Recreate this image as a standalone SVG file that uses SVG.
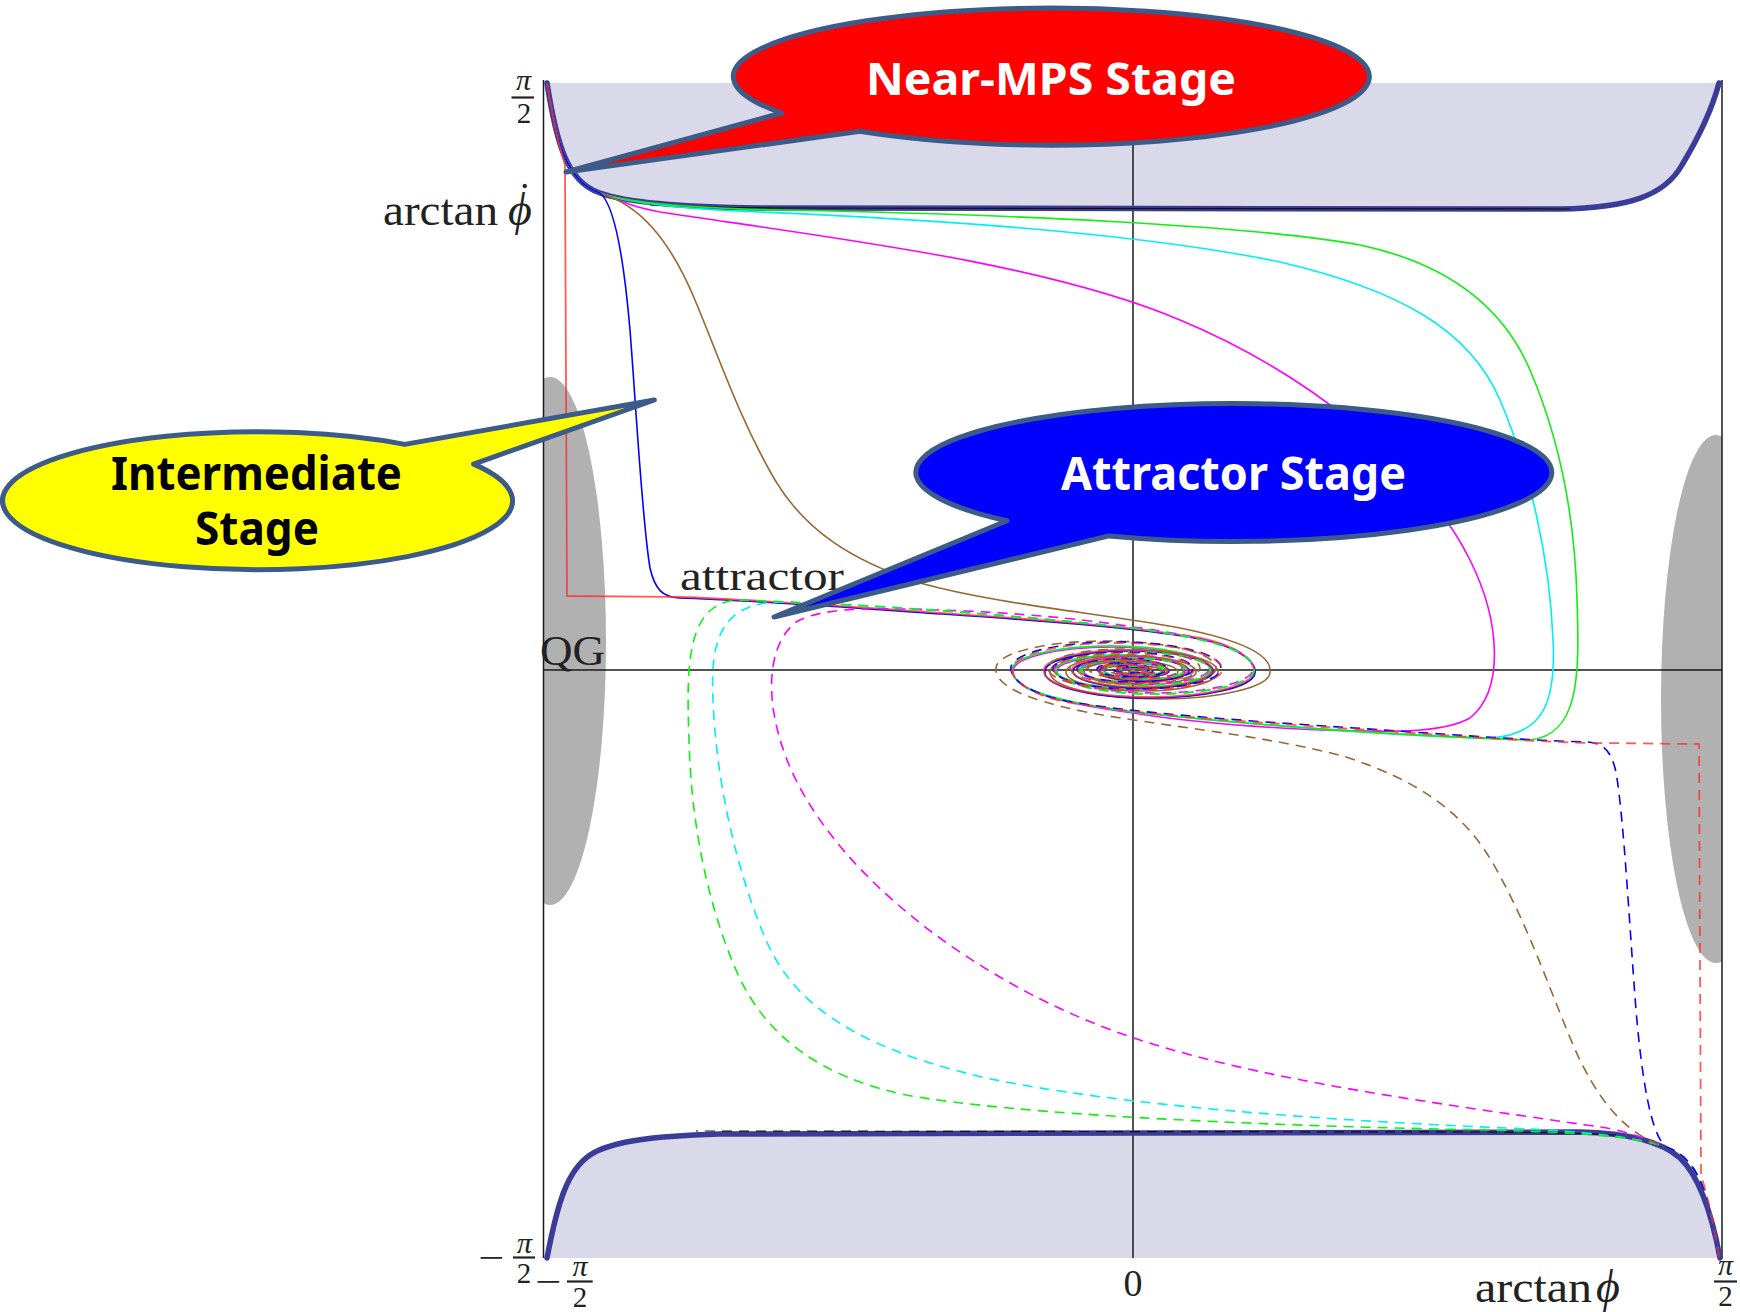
<svg xmlns="http://www.w3.org/2000/svg" width="1740" height="1312" viewBox="0 0 1740 1312">
<defs>
<style>
.region{fill:#d9d9ea;stroke:none;}
.qg{fill:#b1b1b1;}
.axis{stroke:#1a1a1a;stroke-width:1.5;fill:none;}
.bnd{fill:none;stroke:#3b3b98;stroke-width:5.5;stroke-linecap:round;stroke-linejoin:round;}
.core{fill:none;stroke:#111;stroke-width:1.2;}
.tr{fill:none;stroke-width:1.6;stroke-linejoin:round;}
.dash{stroke-dasharray:10 7;}
.red{stroke:#ff3030;stroke-opacity:0.8;stroke-width:1.8;}
.blue{stroke:#0000ff;}
.brown{stroke:#996633;}
.mag{stroke:#ff00ff;}
.cyan{stroke:#00f0f0;}
.green{stroke:#11ee11;}
.math{font-family:"Liberation Serif","DejaVu Serif",serif;fill:#222;}
.frac{stroke:#222;stroke-width:2.2;}
.bubble{stroke:#3d5b88;stroke-width:5;stroke-linejoin:round;}
.btxt{font-family:"Noto Sans","Open Sans","Liberation Sans",sans-serif;font-weight:700;text-anchor:middle;}
</style>
<clipPath id="plotclip"><rect x="543.5" y="80" width="1178.5" height="1180"/></clipPath>
<path id="t-red" d="M 547 83 C 552 115, 558 142, 565 165 L 567 596 C 600 596, 640 597, 679 597 C 750 599, 850 607, 942 613 C 1030 619, 1133 626, 1200 638 C 1235 645, 1256 660, 1254 672 A 105 26 0 0 1 1044 670 A 84 20 0 0 1 1212 670 A 70 17 0 0 1 1072 670 A 58 13 0 0 1 1188 670 A 45 10 0 0 1 1098 670 A 35 8 0 0 1 1168 670 A 26 6 0 0 1 1116 670 A 18 4 0 0 1 1152 670 A 10 3 0 0 1 1132 670"/>
<path id="t-blue" d="M 547 83 C 556 140, 566 182, 600 193 C 615 205, 624 260, 630 330 C 637 420, 642 520, 650 568 C 655 590, 663 597, 679 598 C 750 600, 850 608, 942 614 C 1030 620, 1133 627, 1200 639 C 1235 646, 1257 661, 1255 673 A 105 26 0 0 1 1045 671 A 84 20 0 0 1 1213 671 A 70 17 0 0 1 1073 671 A 58 13 0 0 1 1189 671 A 45 10 0 0 1 1099 671 A 35 8 0 0 1 1169 671 A 26 6 0 0 1 1117 671 A 18 4 0 0 1 1153 671 A 10 3 0 0 1 1133 671"/>
<path id="t-brown" d="M 547 83 C 556 140, 566 182, 600 193 C 640 205, 670 240, 695 300 C 720 360, 740 420, 775 480 C 805 530, 850 560, 920 583 C 1000 605, 1100 613, 1180 628 C 1240 640, 1272 655, 1270 672 A 110 27 0 0 1 1050 672 A 84 22 0 0 1 1218 672 A 76 19 0 0 1 1066 672 A 65 16 0 0 1 1196 672 A 56 13 0 0 1 1084 672 A 47 11 0 0 1 1178 672 A 39 9 0 0 1 1100 672 A 31 7 0 0 1 1162 672 A 24 6 0 0 1 1114 672 A 17 4 0 0 1 1148 672 A 11 3 0 0 1 1126 672"/>
<path id="t-mag" d="M 547 83 C 556 140, 566 182, 600 193 C 625 203, 640 210, 680 215 C 850 240, 1050 265, 1180 320 C 1300 370, 1420 460, 1470 560 C 1500 620, 1505 690, 1470 718 C 1440 735, 1380 732, 1300 729 C 1220 725, 1170 719, 1133 713 C 1060 703, 1013 691, 1013 671 A 99 24 0 0 1 1211 671 A 77 18 0 0 1 1057 671 A 64 15 0 0 1 1185 671 A 52 12 0 0 1 1081 671 A 41 9 0 0 1 1163 671 A 31 7 0 0 1 1101 671 A 23 5 0 0 1 1147 671 A 15 4 0 0 1 1117 671 A 9 2 0 0 1 1135 671"/>
<path id="t-cyan" d="M 547 83 C 556 140, 566 182, 600 193 C 625 202, 680 209, 760 212 C 950 220, 1150 235, 1280 262 C 1400 290, 1470 330, 1500 400 C 1530 470, 1550 560, 1553 640 C 1556 700, 1545 735, 1490 738 C 1400 736, 1250 725, 1133 712 C 1060 702, 1012 690, 1012 670 A 99 24 0 0 1 1210 670 A 77 18 0 0 1 1056 670 A 64 15 0 0 1 1184 670 A 52 12 0 0 1 1080 670 A 41 9 0 0 1 1162 670 A 31 7 0 0 1 1100 670 A 23 5 0 0 1 1146 670 A 15 4 0 0 1 1116 670 A 9 2 0 0 1 1134 670"/>
<path id="t-green" d="M 547 83 C 556 140, 566 182, 600 193 C 625 202, 680 208, 780 210 C 1000 214, 1250 225, 1360 245 C 1440 262, 1500 300, 1530 370 C 1560 440, 1575 520, 1577 600 C 1580 680, 1578 735, 1530 740 C 1400 736, 1250 725, 1133 712 C 1060 702, 1012 690, 1012 670 A 99 24 0 0 1 1210 670 A 77 18 0 0 1 1056 670 A 64 15 0 0 1 1184 670 A 52 12 0 0 1 1080 670 A 41 9 0 0 1 1162 670 A 31 7 0 0 1 1100 670 A 23 5 0 0 1 1146 670 A 15 4 0 0 1 1116 670 A 9 2 0 0 1 1134 670"/>
</defs>

<g id="regions">
<path class="region" d="M 547 83 C 556 140, 566 182, 600 193 C 625 202, 680 207, 760 208 L 1560 209 C 1630 208, 1665 195, 1682 165 C 1700 135, 1712 110, 1719 83 Z"/>
<path class="region" d="M 547 1258 C 558 1200, 568 1170, 590 1155 C 608 1143, 645 1136, 720 1134 L 1580 1132 C 1625 1133, 1660 1140, 1680 1158 C 1700 1177, 1712 1215, 1720 1258 Z"/>
<g clip-path="url(#plotclip)">
<ellipse class="qg" cx="550" cy="641" rx="56" ry="264"/>
<ellipse class="qg" cx="1716" cy="699" rx="55" ry="264"/>
</g>
</g>

<g id="axes">
<line class="axis" x1="543.5" y1="80" x2="543.5" y2="1258"/>
<line class="axis" x1="1722" y1="80" x2="1722" y2="1258"/>
<line class="axis" x1="1133" y1="83" x2="1133" y2="1258"/>
<line class="axis" x1="543.5" y1="670" x2="1722" y2="670"/>
</g>

<g id="boundaries">
<path class="bnd" d="M 547 83 C 556 140, 566 182, 600 193 C 625 202, 680 207, 760 208 L 1560 209 C 1630 208, 1665 195, 1682 165 C 1700 135, 1712 110, 1719 83"/>
<path class="bnd" d="M 547 1258 C 558 1200, 568 1170, 590 1155 C 608 1143, 645 1136, 720 1134 L 1580 1132 C 1625 1133, 1660 1140, 1680 1158 C 1700 1177, 1712 1215, 1720 1258"/>
<path class="core" d="M 650 205 C 690 207, 730 208, 790 208 L 1570 209"/>
<path class="core dash" transform="rotate(180 1133 670)" d="M 650 205 C 690 207, 730 208, 790 208 L 1570 209"/>
</g>

<g id="trajectories">
<use href="#t-mag" class="tr mag"/>
<use href="#t-cyan" class="tr cyan"/>
<use href="#t-green" class="tr green"/>
<use href="#t-brown" class="tr brown"/>
<use href="#t-blue" class="tr blue"/>
<use href="#t-red" class="tr red"/>
<g transform="rotate(180 1133 670)">
<use href="#t-mag" class="tr mag dash"/>
<use href="#t-cyan" class="tr cyan dash"/>
<use href="#t-green" class="tr green dash"/>
<use href="#t-brown" class="tr brown dash"/>
<use href="#t-blue" class="tr blue dash"/>
<use href="#t-red" class="tr red dash"/>
</g>
</g>

<g id="labels">
<text class="math" x="523.5" y="90" font-size="30" font-style="italic" text-anchor="middle">π</text>
<line class="frac" x1="511.5" y1="97.5" x2="534" y2="97.5"/>
<text class="math" x="524" y="123" font-size="29" text-anchor="middle">2</text>

<text class="math" x="383" y="225" font-size="44" textLength="115" lengthAdjust="spacingAndGlyphs">arctan</text>
<text class="math" x="508" y="225" font-size="46" font-style="italic">ϕ<tspan x="518" y="210" font-size="40" font-style="normal">˙</tspan></text>

<text class="math" x="540" y="665" font-size="42" textLength="65" lengthAdjust="spacingAndGlyphs">QG</text>
<text class="math" x="680" y="590" font-size="40" textLength="164" lengthAdjust="spacingAndGlyphs">attractor</text>

<text class="math" x="478" y="1269" font-size="34" textLength="26" lengthAdjust="spacingAndGlyphs">−</text>
<text class="math" x="524.5" y="1253" font-size="30" font-style="italic" text-anchor="middle">π</text>
<line class="frac" x1="513" y1="1257.5" x2="535" y2="1257.5"/>
<text class="math" x="524" y="1283" font-size="29" text-anchor="middle">2</text>

<text class="math" x="535" y="1293" font-size="34" textLength="26" lengthAdjust="spacingAndGlyphs">−</text>
<text class="math" x="580" y="1275.5" font-size="30" font-style="italic" text-anchor="middle">π</text>
<line class="frac" x1="567" y1="1281.5" x2="592.7" y2="1281.5"/>
<text class="math" x="580" y="1306.5" font-size="29" text-anchor="middle">2</text>

<text class="math" x="1133" y="1296" font-size="38" text-anchor="middle">0</text>

<text class="math" x="1475" y="1302" font-size="44" textLength="117" lengthAdjust="spacingAndGlyphs">arctan</text>
<text class="math" x="1596" y="1302" font-size="46" font-style="italic">ϕ</text>

<text class="math" x="1725.5" y="1275" font-size="30" font-style="italic" text-anchor="middle">π</text>
<line class="frac" x1="1714" y1="1281.5" x2="1737" y2="1281.5"/>
<text class="math" x="1725.5" y="1306" font-size="29" text-anchor="middle">2</text>
</g>

<g id="near-mps-stage">
<path class="bubble" fill="#ff0000" d="M 782 113 A 318 68.5 0 1 1 860 131.3 L 566 172 Z"/>
<text class="btxt" x="1051" y="95" font-size="44" fill="#ffffff" textLength="370" lengthAdjust="spacingAndGlyphs">Near-MPS Stage</text>
</g>

<g id="intermediate-stage">
<path class="bubble" fill="#ffff00" d="M 473.6 464.1 A 255 69 0 1 1 404.7 444.4 L 654.4 400 Z"/>
<text class="btxt" font-size="46" fill="#000000"><tspan x="256.5" y="490" textLength="291" lengthAdjust="spacingAndGlyphs">Intermediate</tspan><tspan x="257" y="545" textLength="124" lengthAdjust="spacingAndGlyphs">Stage</tspan></text>
</g>

<g id="attractor-stage">
<path class="bubble" fill="#0000ff" d="M 1007 520.8 A 318 69 0 1 1 1109 535.9 L 774 617 Z"/>
<text class="btxt" x="1233.5" y="490" font-size="46" fill="#ffffff" textLength="345" lengthAdjust="spacingAndGlyphs">Attractor Stage</text>
</g>
</svg>
